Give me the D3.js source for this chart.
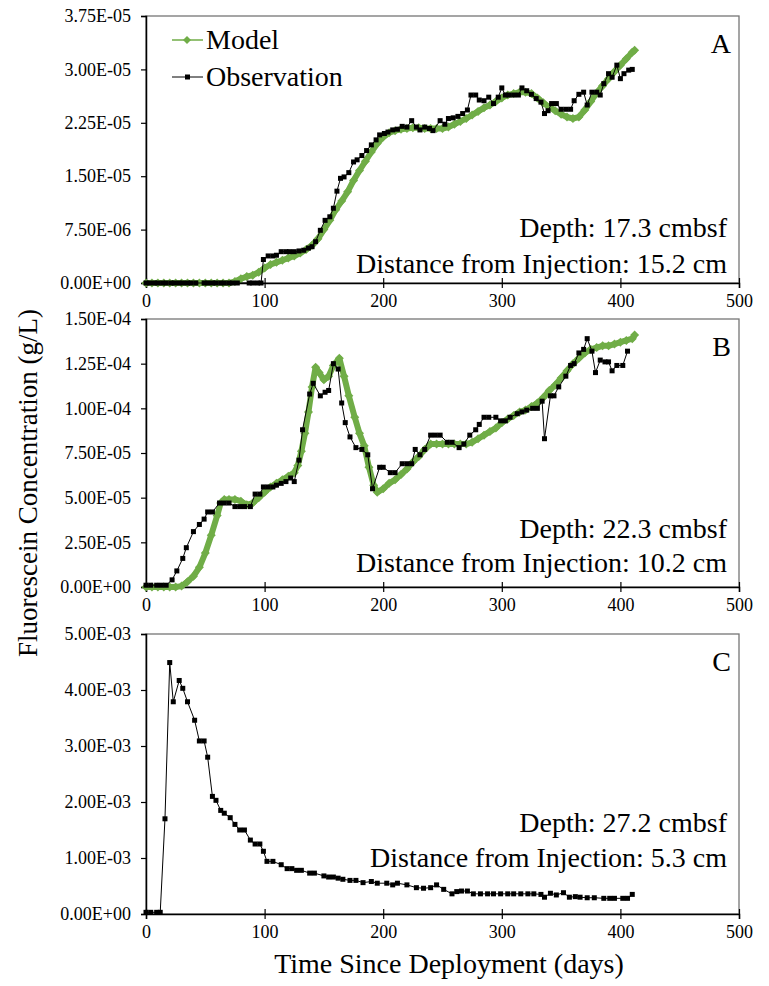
<!DOCTYPE html>
<html>
<head>
<meta charset="utf-8">
<title>Fluorescein Concentration</title>
<script src="https://d3js.org/d3.v7.min.js"></script>
<style>
  body { margin: 0; background: #fff; }
</style>
</head>
<body>
<div id="view"></div>
<script>
var width = 769;
var height = 986;
var serif = "'Liberation Serif', Tinos, 'DejaVu Serif', serif";

// x axis (days)
var xTicks = [0, 100, 200, 300, 400, 500];

// panel A, values in 1e-5 g/L
var yTicksA = [0, 0.75, 1.5, 2.25, 3, 3.75];
var yLabelsA = ["0.00E+00", "7.50E-06", "1.50E-05", "2.25E-05", "3.00E-05", "3.75E-05"];
var modelA = [[0,0],[5,0],[10,0],[15,0],[20,0],[25,0],[30,0],[35,0],[40,0],[45,0],[50,0],[55,0],[60,0],[65,0],[70,0],
  [75,0.02],[80,0.06],[85,0.09],[90,0.11],[95,0.15],[100,0.21],[105,0.26],[110,0.29],[115,0.32],[120,0.35],[125,0.38],
  [130,0.42],[135,0.47],[140,0.53],[145,0.62],[150,0.75],[155,0.88],[160,1.03],[165,1.15],[170,1.28],[175,1.44],[180,1.58],
  [185,1.71],[190,1.84],[195,1.96],[200,2.05],[205,2.11],[210,2.14],[215,2.16],[220,2.17],[225,2.18],[230,2.18],[235,2.17],
  [240,2.17],[245,2.17],[250,2.17],[255,2.19],[260,2.23],[265,2.27],[270,2.31],[275,2.36],[280,2.41],[285,2.46],[290,2.50],
  [295,2.55],[300,2.60],[305,2.64],[310,2.66],[315,2.68],[320,2.68],[325,2.66],[330,2.60],[335,2.53],[340,2.47],[345,2.42],
  [350,2.37],[355,2.33],[360,2.31],[365,2.33],[370,2.43],[375,2.55],[380,2.67],[385,2.77],[390,2.87],[395,2.97],[400,3.06],
  [405,3.15],[410,3.24],[412,3.27]];
var obsA = [[0,0],[3,0],[7,0],[10,0],[14,0],[17,0],[21,0],[24,0],[28,0],[31,0],[35,0],[38,0],[42,0],[49,0],[52,0],[56,0],
  [59,0],[63,0],[66,0],[70,0],[73,0],[77,0],[87,0],[90,0],[94,0],[97,0],[99,0.33],[103,0.38],[107,0.38],[110,0.39],
  [114,0.44],[118,0.44],[121,0.44],[125,0.44],[129,0.45],[133,0.46],[137,0.49],[140,0.51],[143,0.58],[147,0.74],[151,0.88],
  [155,0.93],[158,1.05],[161,1.29],[164,1.47],[167,1.49],[171,1.55],[175,1.70],[178,1.73],[182,1.79],[186,1.86],[190,1.94],
  [194,2.01],[197,2.08],[201,2.10],[204,2.12],[208,2.15],[212,2.16],[216,2.20],[220,2.19],[224,2.28],[228,2.19],[231,2.15],
  [235,2.19],[239,2.17],[242,2.14],[248,2.28],[252,2.23],[255,2.31],[259,2.32],[263,2.34],[267,2.38],[271,2.43],[274,2.64],
  [278,2.64],[281,2.57],[285,2.56],[289,2.61],[293,2.52],[297,2.61],[300,2.74],[303,2.64],[306,2.64],[310,2.64],[314,2.64],
  [317,2.74],[321,2.70],[325,2.65],[329,2.59],[333,2.54],[336,2.38],[339,2.42],[342,2.52],[346,2.52],[350,2.44],[354,2.44],
  [358,2.44],[361,2.56],[365,2.65],[369,2.68],[372,2.50],[376,2.68],[380,2.68],[383,2.64],[386,2.80],[390,2.94],[393,2.89],
  [397,3.06],[400,2.87],[403,2.94],[407,2.99],[410,3.00]];

// panel B, values in 1e-6 g/L
var yTicksB = [0, 25, 50, 75, 100, 125, 150];
var yLabelsB = ["0.00E+00", "2.50E-05", "5.00E-05", "7.50E-05", "1.00E-04", "1.25E-04", "1.50E-04"];
var modelB = [[0,0],[5,0],[10,0],[15,0],[20,0],[25,0],[30,0.5],[35,3],[40,6],[45,11],[50,19],[55,29],[60,40],[63,47],
  [66,49],[70,49],[75,49],[80,48],[85,46],[90,47],[95,50],[100,53],[105,56],[110,58],[115,60],[120,62],[125,64],[128,68],
  [131,76],[134,86],[137,98],[140,112],[143,123],[146,120],[150,116],[154,118],[158,124],[163,128],[167,118],[171,107],
  [176,95],[180,86],[184,79],[188,67],[192,57],[195,53],[200,55],[205,58],[210,60],[215,63],[220,66],[225,70],[230,73],
  [235,77],[240,80],[245,80],[250,80],[255,80],[260,80],[265,80],[270,80],[275,81],[280,83],[285,85],[290,87],[295,89],
  [300,92],[305,94],[310,96],[315,98],[320,99],[325,101],[330,103],[335,106],[340,110],[345,113],[350,117],[355,121],
  [360,125],[365,128],[370,131],[375,133],[380,134],[385,135],[390,135],[395,136],[400,137],[405,138],[410,139],[412,141]];
var obsB = [[0,1],[4,1],[9,1],[13,1],[17,1],[22,4],[26,9],[31,16],[34,22],[40,31],[45,35],[49,38],[52,42],[56,42],[62,47],
  [66,47],[70,47],[75,45],[79,45],[83,45],[88,45],[92,52],[96,52],[99,56],[103,56],[107,56],[110,57],[114,58],[118,59],
  [122,61],[125,59],[129,71],[132,88],[138,108],[141,114],[147,107],[151,109],[154,110],[158,125],[162,122],[165,103],
  [168,92],[172,84],[177,78],[182,77],[187,74],[191,55],[197,67],[200,67],[206,64],[210,64],[216,69],[220,69],[224,69],
  [227,77],[231,74],[235,77],[240,85],[244,85],[248,85],[254,81],[258,81],[264,78],[268,80],[273,85],[278,88],[281,91],
  [285,95],[289,95],[295,95],[299,93],[303,93],[307,95],[313,97],[317,98],[321,99],[326,100],[330,100],[334,104],[336,83],
  [341,107],[344,107],[348,112],[354,118],[358,124],[361,125],[365,131],[369,133],[372,139],[376,132],[379,120],[383,127],
  [387,126],[390,126],[393,121],[397,124],[402,124],[406,132]];

// panel C, values in 1e-3 g/L
var yTicksC = [0, 1, 2, 3, 4, 5];
var yLabelsC = ["0.00E+00", "1.00E-03", "2.00E-03", "3.00E-03", "4.00E-03", "5.00E-03"];
var obsC = [[0,0.03],[4,0.03],[9,0.03],[12,0.03],[16,1.70],[20,4.49],[23,3.79],[28,4.17],[31,4.03],[35,3.79],[41,3.46],
  [45,3.09],[49,3.09],[52,2.80],[56,2.10],[59,2.03],[63,1.85],[66,1.80],[71,1.72],[75,1.60],[79,1.50],[83,1.50],[88,1.32],
  [92,1.25],[96,1.25],[99,1.12],[102,0.94],[107,0.94],[114,0.88],[119,0.81],[123,0.81],[127,0.78],[131,0.78],[138,0.73],
  [142,0.73],[150,0.68],[154,0.66],[158,0.66],[162,0.64],[166,0.62],[172,0.60],[177,0.60],[183,0.56],[190,0.58],[195,0.55],
  [203,0.55],[208,0.52],[212,0.55],[220,0.52],[228,0.47],[234,0.46],[240,0.47],[245,0.52],[251,0.44],[258,0.36],[262,0.40],
  [266,0.41],[271,0.41],[276,0.36],[282,0.36],[288,0.36],[293,0.36],[299,0.36],[305,0.36],[310,0.36],[316,0.36],[322,0.36],
  [327,0.36],[333,0.35],[336,0.30],[341,0.37],[346,0.34],[352,0.38],[357,0.30],[362,0.31],[366,0.30],[372,0.29],[378,0.29],
  [386,0.28],[391,0.28],[395,0.28],[402,0.28],[406,0.28],[410,0.35]];

var green = "#70ad47";

var svg = d3.select("#view")
    .append("svg")
    .attr("width", width)
    .attr("height", height)
    .attr("font-family", serif);

var x = d3.scaleLinear().domain([0, 500]).range([146, 739]);

var panels = [
    { top: 16, bottom: 283, max: 3.75, ticks: yTicksA, labels: yLabelsA, model: modelA, obs: obsA,
      letter: "A", depth: "Depth: 17.3 cmbsf", dist: "Distance from Injection: 15.2 cm", depthY: 237, distY: 273 },
    { top: 319, bottom: 587, max: 150, ticks: yTicksB, labels: yLabelsB, model: modelB, obs: obsB,
      letter: "B", depth: "Depth: 22.3 cmbsf", dist: "Distance from Injection: 10.2 cm", depthY: 538, distY: 572 },
    { top: 634, bottom: 914, max: 5, ticks: yTicksC, labels: yLabelsC, model: null, obs: obsC,
      letter: "C", depth: "Depth: 27.2 cmbsf", dist: "Distance from Injection: 5.3 cm", depthY: 832, distY: 867 }
];

function diamond(r) {
    return "M0," + (-r) + "L" + r + ",0L0," + r + "L" + (-r) + ",0Z";
}

function addText(sel, size) {
    return sel.append("text")
        .attr("font-family", serif)
        .attr("font-size", size)
        .attr("fill", "#000");
}

panels.forEach(function (p) {
    var y = d3.scaleLinear().domain([0, p.max]).range([p.bottom, p.top]);
    var g = svg.append("g");

    // plot area frame
    g.append("rect")
        .attr("x", 146).attr("y", p.top)
        .attr("width", 739 - 146).attr("height", p.bottom - p.top)
        .attr("fill", "none")
        .attr("stroke", "#767676")
        .attr("stroke-width", 1.3);

    var ya = g.append("g")
        .attr("transform", "translate(146,0)")
        .call(d3.axisLeft(y).tickValues(p.ticks).tickSize(5).tickPadding(10)
            .tickFormat(function (d, i) { return p.labels[i]; }));
    ya.attr("font-family", serif).attr("font-size", 18);
    ya.select(".domain").attr("stroke", "#000").attr("stroke-width", 1.5);
    ya.selectAll(".tick line").attr("stroke", "#000").attr("stroke-width", 1.2);

    var xa = g.append("g")
        .attr("transform", "translate(0," + p.bottom + ")")
        .call(d3.axisBottom(x).tickValues(xTicks).tickSize(5).tickPadding(6));
    xa.attr("font-family", serif).attr("font-size", 18);
    xa.select(".domain").attr("stroke", "#000").attr("stroke-width", 1.5);
    xa.selectAll(".tick line").attr("y1", -5).attr("stroke", "#000").attr("stroke-width", 1.2);

    var line = d3.line()
        .x(function (d) { return x(d[0]); })
        .y(function (d) { return y(d[1]); });

    if (p.model) {
        g.append("path")
            .datum(p.model)
            .attr("d", line)
            .attr("fill", "none")
            .attr("stroke", green)
            .attr("stroke-width", 6)
            .attr("stroke-linejoin", "round");
        g.selectAll(".mdl")
            .data(p.model)
            .enter().append("path")
            .attr("class", "mdl")
            .attr("transform", function (d) { return "translate(" + x(d[0]) + "," + y(d[1]) + ")"; })
            .attr("d", diamond(4.5))
            .attr("fill", green);
    }

    g.append("path")
        .datum(p.obs)
        .attr("d", line)
        .attr("fill", "none")
        .attr("stroke", "#000")
        .attr("stroke-width", 1);
    g.selectAll(".obs")
        .data(p.obs)
        .enter().append("rect")
        .attr("class", "obs")
        .attr("x", function (d) { return x(d[0]) - 2.5; })
        .attr("y", function (d) { return y(d[1]) - 2.5; })
        .attr("width", 5)
        .attr("height", 5)
        .attr("fill", "#000");

    addText(g, 28).attr("x", 731).attr("y", p.top + 37)
        .attr("text-anchor", "end").text(p.letter);
    addText(g, 28).attr("x", 727).attr("y", p.depthY)
        .attr("text-anchor", "end").text(p.depth);
    addText(g, 28).attr("x", 727).attr("y", p.distY)
        .attr("text-anchor", "end").text(p.dist);
});

// legend in panel A
var leg = svg.append("g");
leg.append("line").attr("x1", 172).attr("x2", 203).attr("y1", 40).attr("y2", 40)
    .attr("stroke", green).attr("stroke-width", 1.5);
leg.append("path").attr("transform", "translate(187,40)").attr("d", diamond(4)).attr("fill", green);
addText(leg, 28).attr("x", 206).attr("y", 49).text("Model");
leg.append("line").attr("x1", 172).attr("x2", 203).attr("y1", 77).attr("y2", 77)
    .attr("stroke", "#000").attr("stroke-width", 1);
leg.append("rect").attr("x", 185).attr("y", 74.5).attr("width", 5).attr("height", 5).attr("fill", "#000");
addText(leg, 28).attr("x", 206).attr("y", 86).text("Observation");

// axis titles
addText(svg, 27)
    .attr("transform", "translate(37,483) rotate(-90)")
    .attr("text-anchor", "middle")
    .text("Fluorescein Concentration (g/L)");
addText(svg, 28)
    .attr("x", 449).attr("y", 973)
    .attr("text-anchor", "middle")
    .text("Time Since Deployment (days)");
</script>
</body>
</html>
